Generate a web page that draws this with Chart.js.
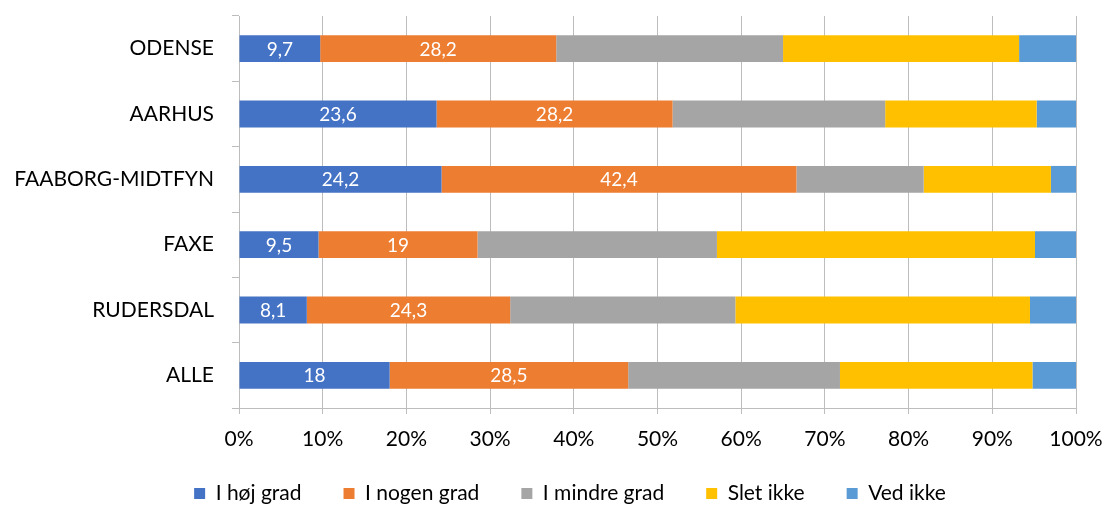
<!DOCTYPE html>
<html>
<head>
<meta charset="utf-8">
<script src="https://cdn.jsdelivr.net/npm/chart.js@4/dist/chart.umd.min.js"></script>
<style>
  html, body { margin: 0; padding: 0; background: #fff; }
  #wrap { width: 1107px; height: 505px; }
</style>
</head>
<body>
<div id="wrap"><canvas id="chart" width="1107" height="505"></canvas></div>
<script>
// Kommuner (kategorier)
const categories = ['ODENSE', 'AARHUS', 'FAABORG-MIDTFYN', 'FAXE', 'RUDERSDAL', 'ALLE'];

// Andele i procent pr. svarkategori
const hoejGrad   = [9.7, 23.6, 24.2, 9.5, 8.1, 18];
const nogenGrad  = [28.2, 28.2, 42.4, 19, 24.3, 28.5];
const mindreGrad = [27.1, 25.4, 15.2, 28.6, 26.9, 25.3];
const sletIkke   = [28.2, 18.1, 15.2, 38.0, 35.2, 23.0];
const vedIkke    = [6.8, 4.7, 3.0, 4.9, 5.5, 5.2];

const seriesNames = ['I høj grad', 'I nogen grad', 'I mindre grad', 'Slet ikke', 'Ved ikke'];
const xTicks = [0, 10, 20, 30, 40, 50, 60, 70, 80, 90, 100];

const FONT = 'Lato, "Open Sans", sans-serif';

// Tegner værdier midt i søjlerne for de to første serier
const barLabels = {
    id: 'barLabels',
    afterDatasetsDraw(chart) {
        const ctx = chart.ctx;
        ctx.save();
        ctx.fillStyle = '#fff';
        ctx.font = '19px ' + FONT;
        ctx.textAlign = 'center';
        ctx.textBaseline = 'middle';
        [0, 1].forEach(i => {
            const meta = chart.getDatasetMeta(i);
            meta.data.forEach((bar, j) => {
                const v = chart.data.datasets[i].data[j];
                const cx = (bar.x + bar.base) / 2;
                ctx.fillText(String(v).replace('.', ','), cx, bar.y + 1);
            });
        });
        ctx.restore();
    }
};

// Forklaringen: fast højde, lidt forskudt som i originalen
const legendPlace = {
    id: 'legendPlace',
    afterInit(chart) {
        const fit = chart.legend.fit;
        chart.legend.fit = function () {
            fit.call(this);
            this.height = 41;
        };
    },
    afterLayout(chart) {
        chart.legend.left = 64;
        chart.legend.top = 441;
    }
};

new Chart(document.getElementById('chart'), {
    type: 'bar',
    data: {
        labels: categories,
        datasets: [
            { label: seriesNames[0], data: hoejGrad, backgroundColor: '#4472C4' },
            { label: seriesNames[1], data: nogenGrad, backgroundColor: '#ED7D31' },
            { label: seriesNames[2], data: mindreGrad, backgroundColor: '#A5A5A5' },
            { label: seriesNames[3], data: sletIkke, backgroundColor: '#FFC000' },
            { label: seriesNames[4], data: vedIkke, backgroundColor: '#5B9BD5' }
        ]
    },
    options: {
        indexAxis: 'y',
        responsive: false,
        animation: false,
        devicePixelRatio: 1,
        datasets: {
            bar: { categoryPercentage: 1, barPercentage: 0.41, borderWidth: 0 }
        },
        layout: { padding: { top: 16, right: 31, left: 0, bottom: 0 } },
        plugins: {
            legend: {
                position: 'bottom',
                labels: {
                    font: { family: FONT, size: 21 },
                    color: '#000',
                    boxWidth: 11,
                    boxHeight: 11,
                    padding: 42
                }
            },
            tooltip: { enabled: false }
        },
        scales: {
            x: {
                stacked: true,
                min: 0,
                max: 100,
                afterBuildTicks: (scale) => { scale.ticks = xTicks.map(v => ({ value: v })); },
                afterFit: (scale) => {
                    scale.height = 56;
                    scale.paddingLeft = 0;
                    scale.paddingRight = 0;
                },
                ticks: {
                    callback: (v) => v + '%',
                    font: { family: FONT, size: 21 },
                    color: '#000',
                    padding: 13,
                    maxRotation: 0
                },
                grid: { color: '#bdbdbd', tickLength: 6, lineWidth: 1 },
                border: { color: '#bdbdbd' }
            },
            y: {
                stacked: true,
                afterFit: (scale) => {
                    scale.width = 239;
                    scale.paddingTop = 0;
                    scale.paddingBottom = 0;
                },
                ticks: {
                    font: { family: FONT, size: 21 },
                    color: '#000',
                    padding: 18
                },
                grid: { drawOnChartArea: false, color: '#bdbdbd', tickLength: 7, offset: true },
                border: { color: '#bdbdbd' }
            }
        }
    },
    plugins: [barLabels, legendPlace]
});
</script>
</body>
</html>
